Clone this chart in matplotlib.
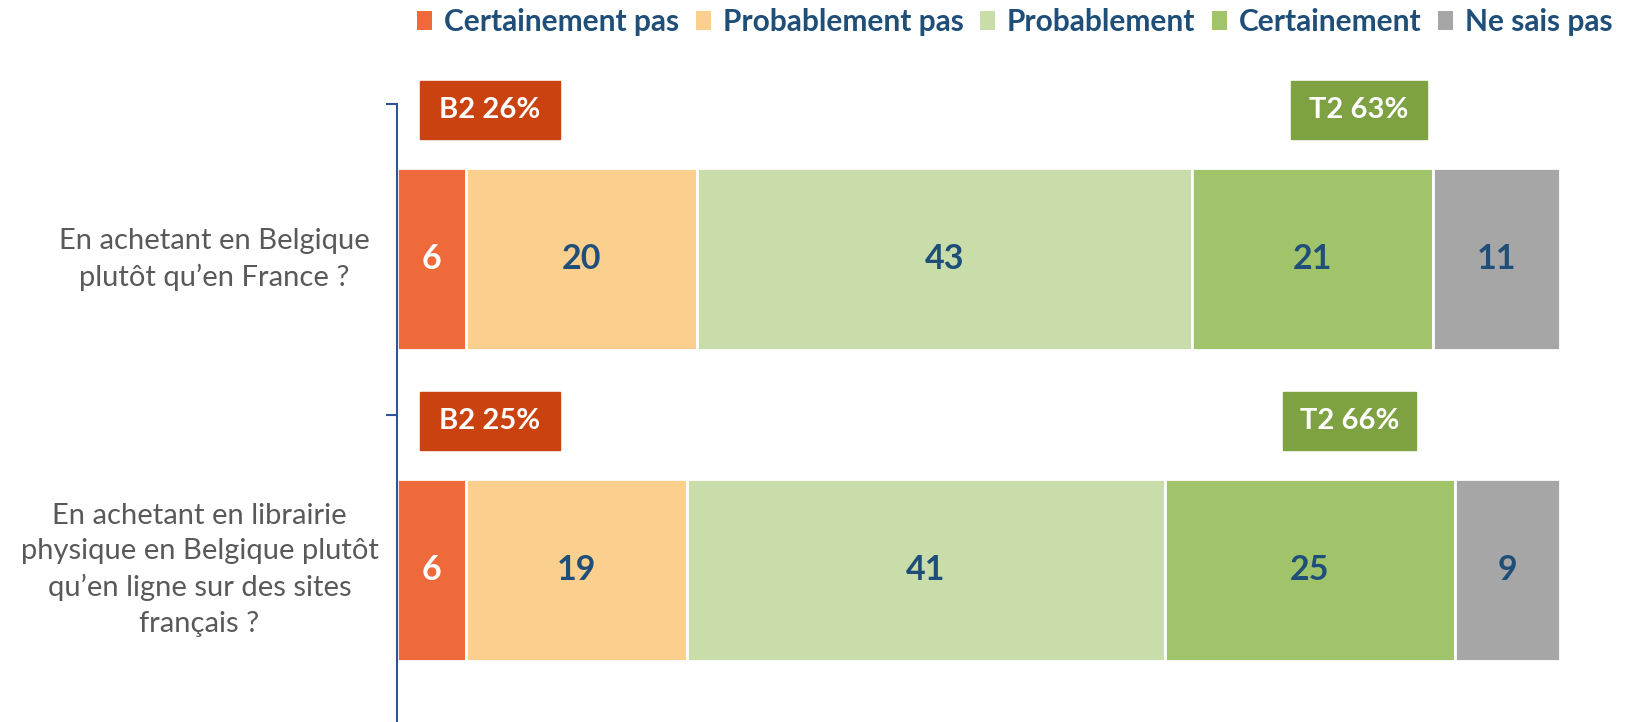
import matplotlib
matplotlib.use("Agg")
import matplotlib.pyplot as plt
from matplotlib.patches import Rectangle, Patch
import matplotlib.transforms as mtransforms
import numpy as np

plt.rcParams['font.family'] = ['Lato', 'DejaVu Sans']

categories = ["En achetant en Belgique\nplutôt qu\u2019en France ?",
              "En achetant en librairie\nphysique en Belgique plutôt\nqu\u2019en ligne sur des sites\nfrançais ?"]
series_names = ["Certainement pas", "Probablement pas", "Probablement", "Certainement", "Ne sais pas"]
values = {
    "Certainement pas": [5.9, 5.9],
    "Probablement pas": [19.9, 19.0],
    "Probablement": [42.6, 41.1],
    "Certainement": [20.7, 25.0],
    "Ne sais pas": [10.9, 9.0],
}
value_labels = {
    "Certainement pas": ["6", "6"],
    "Probablement pas": ["20", "19"],
    "Probablement": ["43", "41"],
    "Certainement": ["21", "25"],
    "Ne sais pas": ["11", "9"],
}
b2_labels = ["B2 26%", "B2 25%"]
t2_labels = ["T2 63%", "T2 66%"]

colors = ["#EE6A3A", "#FBCF8E", "#C9DDAA", "#A1C46B", "#A6A6A6"]
label_colors = ["white", "#1F4E79", "#1F4E79", "#1F4E79", "#1F4E79"]
navy = "#1F4E79"

fig = plt.figure(figsize=(16.26, 7.22), dpi=100)
ax = fig.add_axes([397/1626, 1-725/722, (1560-397)/1626, (725-104)/722])

y = np.arange(len(categories))
left = np.zeros(len(categories))
bar_h = 0.585
for name, c, lc in zip(series_names, colors, label_colors):
    v = np.array(values[name])
    ax.barh(y, v, left=left, height=bar_h, color=c, edgecolor="white", linewidth=2, label=name)
    for i in range(len(y)):
        ax.text(left[i] + v[i]/2, y[i], value_labels[name][i], ha="center", va="center",
                fontsize=24.5, fontweight="bold", color=lc)
    left = left + v

# badges
b2_x = [2.0, 2.0]
b2_w = [12.0, 12.0]
t2_cx = [82.7, 81.9]
t2_w = [11.7, 11.5]
badge_h = 0.187
badge_off = 0.48
for i in range(len(y)):
    yc = y[i] - badge_off
    ax.add_patch(Rectangle((b2_x[i], yc - badge_h/2), b2_w[i], badge_h, color="#C9420F", clip_on=False, zorder=3))
    ax.text(b2_x[i] + b2_w[i]/2, yc, b2_labels[i], ha="center", va="center", fontsize=21,
            fontweight="bold", color="white", zorder=4, clip_on=False)
    ax.add_patch(Rectangle((t2_cx[i] - t2_w[i]/2, yc - badge_h/2), t2_w[i], badge_h, color="#7EA241", clip_on=False, zorder=3))
    ax.text(t2_cx[i], yc, t2_labels[i], ha="center", va="center", fontsize=21,
            fontweight="bold", color="white", zorder=4, clip_on=False)

ax.set_xlim(0, 100)
ax.set_ylim(1.5, -0.5)
for s in ["top", "right", "bottom"]:
    ax.spines[s].set_visible(False)
ax.spines["left"].set_color("#2F5597")
ax.spines["left"].set_linewidth(1.5)
ax.set_xticks([])
ax.set_yticks([-0.5, 0.5, 1.5])
ax.set_yticklabels([])
ax.tick_params(axis="y", which="major", length=8, width=1.5, color="#2F5597")

# category labels
lab_right = [-0.0234, -0.016]
trans = mtransforms.blended_transform_factory(ax.transAxes, ax.transData)
for i, cat in enumerate(categories):
    ax.text(lab_right[i], y[i], cat, transform=trans, ha="right", va="center",
            multialignment="center", fontsize=21, color="#595959", linespacing=1.45)

handles = [Patch(facecolor=c, label=n) for n, c in zip(series_names, colors)]
leg = fig.legend(handles=handles, loc="upper right", bbox_to_anchor=(1.008, 1.026), ncol=5,
                 frameon=False, handlelength=0.5, handleheight=0.6, handletextpad=0.4,
                 columnspacing=0.55, prop={"size": 21.5, "weight": "bold"})
for t in leg.get_texts():
    t.set_color(navy)

fig.savefig("out.png", dpi=100)
